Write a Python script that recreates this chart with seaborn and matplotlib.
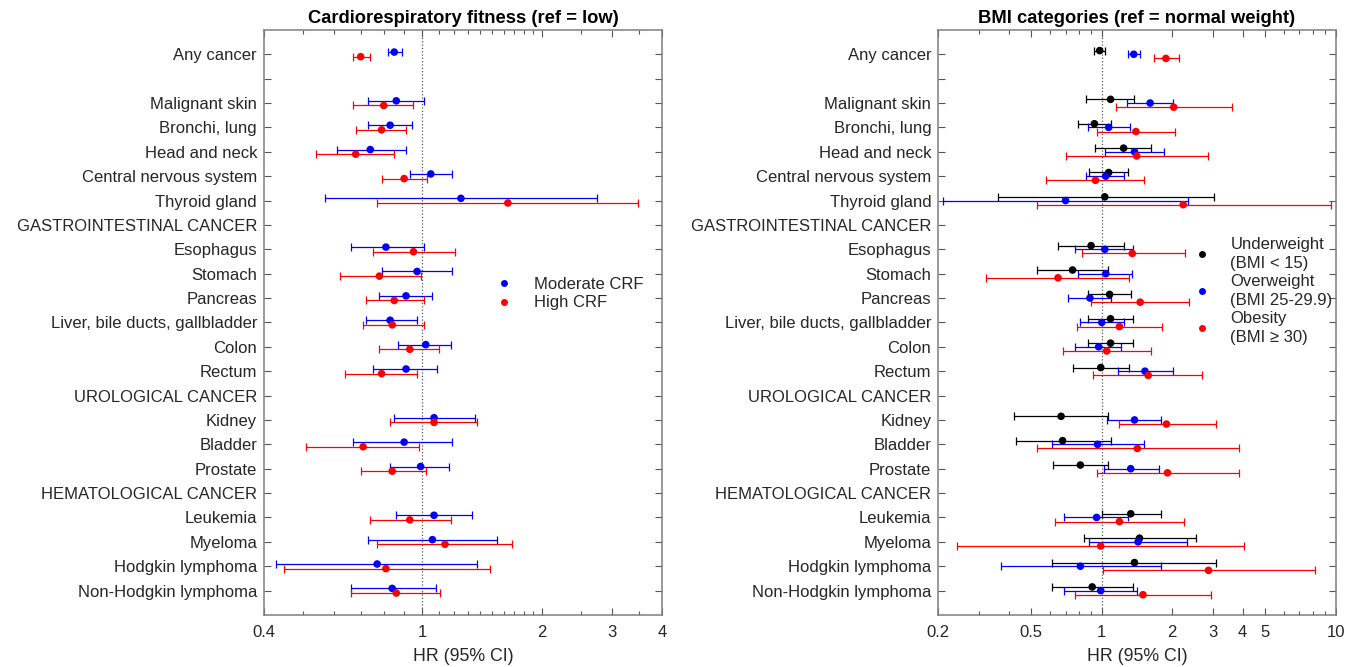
import numpy as np
import pandas as pd
import matplotlib
matplotlib.use("Agg")
import matplotlib.pyplot as plt
from matplotlib.lines import Line2D
import seaborn as sns

# row labels (blank row after "Any cancer", section headers have no data)
row_labels = ["Any cancer", "", "Malignant skin", "Bronchi, lung", "Head and neck",
              "Central nervous system", "Thyroid gland", "GASTROINTESTINAL CANCER",
              "Esophagus", "Stomach", "Pancreas", "Liver, bile ducts, gallbladder",
              "Colon", "Rectum", "UROLOGICAL CANCER", "Kidney", "Bladder", "Prostate",
              "HEMATOLOGICAL CANCER", "Leukemia", "Myeloma", "Hodgkin lymphoma",
              "Non-Hodgkin lymphoma"]

outcomes = ["Any cancer", "Malignant skin", "Bronchi, lung", "Head and neck",
            "Central nervous system", "Thyroid gland", "Esophagus", "Stomach",
            "Pancreas", "Liver, bile ducts, gallbladder", "Colon", "Rectum",
            "Kidney", "Bladder", "Prostate", "Leukemia", "Myeloma",
            "Hodgkin lymphoma", "Non-Hodgkin lymphoma"]

# cardiorespiratory fitness (ref = low)
mod_hr = [0.85, 0.86, 0.83, 0.74, 1.05, 1.25, 0.81, 0.97, 0.91, 0.83, 1.02, 0.91, 1.07, 0.90, 0.99, 1.07, 1.06, 0.77, 0.84]
mod_lo = [0.82, 0.73, 0.73, 0.61, 0.93, 0.57, 0.66, 0.79, 0.78, 0.72, 0.87, 0.75, 0.85, 0.67, 0.83, 0.86, 0.73, 0.43, 0.66]
mod_hi = [0.89, 1.01, 0.94, 0.91, 1.19, 2.75, 1.01, 1.19, 1.06, 0.97, 1.18, 1.09, 1.36, 1.19, 1.17, 1.33, 1.54, 1.37, 1.08]

high_hr = [0.70, 0.80, 0.79, 0.68, 0.90, 1.64, 0.95, 0.78, 0.85, 0.84, 0.93, 0.79, 1.07, 0.71, 0.84, 0.93, 1.14, 0.81, 0.86]
high_lo = [0.67, 0.67, 0.68, 0.54, 0.79, 0.77, 0.75, 0.62, 0.72, 0.71, 0.78, 0.64, 0.83, 0.51, 0.70, 0.74, 0.77, 0.45, 0.66]
high_hi = [0.74, 0.95, 0.91, 0.85, 1.03, 3.49, 1.21, 0.99, 1.01, 1.01, 1.10, 0.97, 1.37, 0.98, 1.02, 1.18, 1.68, 1.48, 1.11]

# BMI categories (ref = normal weight)
under_hr = [0.98, 1.09, 0.93, 1.24, 1.07, 1.03, 0.90, 0.75, 1.08, 1.09, 1.09, 0.99, 0.67, 0.68, 0.81, 1.33, 1.45, 1.38, 0.91]
under_lo = [0.93, 0.86, 0.79, 0.94, 0.88, 0.36, 0.65, 0.53, 0.87, 0.87, 0.87, 0.75, 0.42, 0.43, 0.62, 1.00, 0.84, 0.61, 0.61]
under_hi = [1.03, 1.37, 1.09, 1.62, 1.29, 3.01, 1.24, 1.06, 1.33, 1.36, 1.36, 1.31, 1.06, 1.09, 1.06, 1.80, 2.52, 3.08, 1.36]

over_hr = [1.37, 1.61, 1.07, 1.38, 1.04, 0.70, 1.03, 1.04, 0.89, 1.00, 0.97, 1.53, 1.38, 0.96, 1.33, 0.95, 1.43, 0.81, 0.99]
over_lo = [1.29, 1.28, 0.87, 1.03, 0.86, 0.21, 0.77, 0.79, 0.72, 0.81, 0.77, 1.17, 1.05, 0.61, 1.02, 0.69, 0.88, 0.37, 0.69]
over_hi = [1.45, 2.02, 1.32, 1.84, 1.25, 2.34, 1.36, 1.35, 1.10, 1.25, 1.21, 2.01, 1.80, 1.52, 1.76, 1.30, 2.32, 1.80, 1.42]

obese_hr = [1.88, 2.03, 1.40, 1.41, 0.94, 2.23, 1.35, 0.65, 1.46, 1.19, 1.05, 1.58, 1.89, 1.42, 1.91, 1.19, 0.99, 2.86, 1.50]
obese_lo = [1.67, 1.15, 0.95, 0.70, 0.58, 0.53, 0.82, 0.32, 0.90, 0.78, 0.68, 0.92, 1.18, 0.53, 0.95, 0.63, 0.24, 1.01, 0.77]
obese_hi = [2.14, 3.60, 2.06, 2.84, 1.52, 9.55, 2.28, 1.31, 2.37, 1.81, 1.63, 2.69, 3.08, 3.86, 3.86, 2.24, 4.06, 8.13, 2.92]

sns.set_style("ticks")
plt.rcParams["font.family"] = ["Liberation Sans", "DejaVu Sans"]
txt_col = "#262626"
ax_col = "#7f7f7f"
fs = 12


def build(groups):
    frames = []
    for name, hr, lo, hi, off, col in groups:
        d = pd.DataFrame({"outcome": outcomes, "hr": hr, "lo": lo, "hi": hi})
        d["group"] = name
        d["y"] = [row_labels.index(o) + off for o in outcomes]
        frames.append(d)
    return pd.concat(frames, ignore_index=True)


def forest(ax, groups, xlim, major, minor):
    df = build(groups)
    pal = {g[0]: g[5] for g in groups}
    ax.axvline(1, color="#555555", ls=":", lw=0.9, zorder=0)
    for name, *_ in groups:
        d = df[df.group == name]
        ax.errorbar(d.hr, d.y, xerr=[d.hr - d.lo, d.hi - d.hr], fmt="none",
                    ecolor=pal[name], elinewidth=0.9, capsize=3.2, capthick=0.9)
    sns.scatterplot(data=df, x="hr", y="y", hue="group", palette=pal, ax=ax,
                    s=30, edgecolor="none", legend=False, zorder=3)
    ax.set_xscale("log")
    ax.set_xlim(*xlim)
    ax.set_ylim(len(row_labels), -1)
    ax.set_xticks(major)
    ax.set_xticklabels([f"{v:g}" for v in major])
    ax.set_xticks(minor, minor=True)
    ax.set_xticklabels([], minor=True)
    ax.set_yticks(range(len(row_labels)))
    ax.set_yticklabels(row_labels)
    ax.tick_params(axis="both", which="both", direction="in", top=True, right=True,
                   color="#555555", labelcolor=txt_col, labelsize=fs, width=0.8)
    ax.tick_params(axis="both", which="major", length=5)
    ax.tick_params(axis="x", which="minor", length=3)
    ax.tick_params(axis="x", pad=7)
    ax.tick_params(axis="y", pad=5)
    for s in ax.spines.values():
        s.set_color(ax_col)
        s.set_linewidth(1.1)
    ax.set_xlabel("HR (95% CI)", fontsize=12.8, color=txt_col, labelpad=6)
    ax.set_ylabel("")


fig = plt.figure(figsize=(13.46, 6.67), dpi=100)
ax1 = fig.add_axes([0.1961, 0.078, 0.2957, 0.8772])
ax2 = fig.add_axes([0.6971, 0.078, 0.2952, 0.8772])

crf_groups = [("Moderate CRF", mod_hr, mod_lo, mod_hi, -0.09, "#0000ff"),
              ("High CRF", high_hr, high_lo, high_hi, 0.1, "#ff0000")]
bmi_groups = [("Underweight\n(BMI < 15)", under_hr, under_lo, under_hi, -0.15, "#000000"),
              ("Overweight\n(BMI 25-29.9)", over_hr, over_lo, over_hi, 0.0, "#0000ff"),
              ("Obesity\n(BMI \u2265 30)", obese_hr, obese_lo, obese_hi, 0.17, "#ff0000")]

forest(ax1, crf_groups, (0.4, 4), [0.4, 1, 2, 3, 4],
       [0.5, 0.6, 0.7, 0.8, 0.9, 1.1, 1.2, 1.3, 1.4, 1.5, 1.6, 1.7, 1.8, 1.9, 2.5, 3.5])
forest(ax2, bmi_groups, (0.2, 10), [0.2, 0.5, 1, 2, 3, 4, 5, 10],
       [0.3, 0.4, 0.6, 0.7, 0.8, 0.9, 6, 7, 8, 9])

ax1.set_title("Cardiorespiratory fitness (ref = low)", fontsize=13.2, fontweight="bold",
              color="black", pad=5)
ax2.set_title("BMI categories (ref = normal weight)", fontsize=13.2, fontweight="bold",
              color="black", pad=5)

h1 = [Line2D([], [], ls="none", marker="o", ms=5, color=g[5], mec="none") for g in crf_groups]
ax1.legend(h1, [g[0] for g in crf_groups], loc="center left", bbox_to_anchor=(0.56, 0.549),
           frameon=False, fontsize=fs, handlelength=1, handletextpad=1.3,
           borderpad=0, labelspacing=0.2, labelcolor=txt_col)
h2 = [Line2D([], [], ls="none", marker="o", ms=5, color=g[5], mec="none") for g in bmi_groups]
leg2 = ax2.legend(h2, [g[0] for g in bmi_groups], loc="center left",
                  bbox_to_anchor=(0.622, 0.554), frameon=False, fontsize=fs,
                  handlelength=1, handletextpad=1.2, borderpad=0, labelspacing=0.2,
                  labelcolor=txt_col)
for t in leg2.get_texts():
    t.set_linespacing(1.3)

fig.savefig("out.png", dpi=100)
